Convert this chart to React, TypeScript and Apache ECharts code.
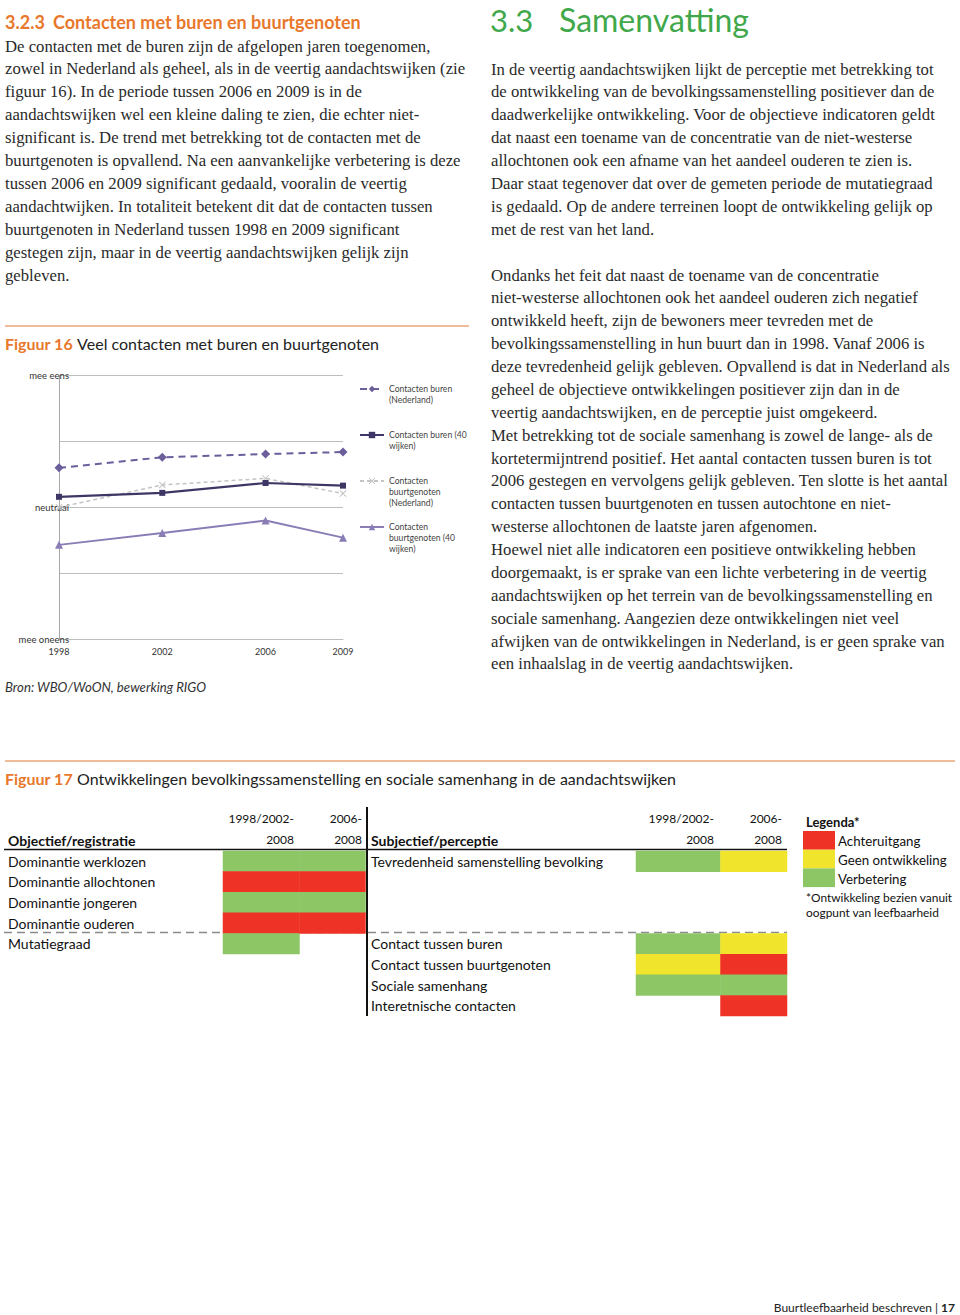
import React, { useEffect, useRef } from "react";
import * as echarts from "echarts";

// ---------- Figure 16 data ----------
const years = [1998, 2002, 2006, 2009];
const seriesNames = [
  "Contacten buren (Nederland)",
  "Contacten buren (40 wijken)",
  "Contacten buurtgenoten (Nederland)",
  "Contacten buurtgenoten (40 wijken)",
];
const legendWrapped = [
  ["Contacten buren", "(Nederland)"],
  ["Contacten buren (40", "wijken)"],
  ["Contacten", "buurtgenoten", "(Nederland)"],
  ["Contacten", "buurtgenoten (40", "wijken)"],
];
const burenNL = [2.6, 2.76, 2.81, 2.84];
const buren40 = [2.16, 2.22, 2.37, 2.33];
const genotenNL = [2.0, 2.34, 2.44, 2.21];
const genoten40 = [1.43, 1.61, 1.8, 1.54];
const scaleValues = [0, 2, 4];
const scaleNames = ["mee oneens", "neutraal", "mee eens"];

// ---------- Figure 17 data ----------
const periods = ["1998/2002-\n2008", "2006-\n2008"];
const objRows = [
  "Dominantie werklozen",
  "Dominantie allochtonen",
  "Dominantie jongeren",
  "Dominantie ouderen",
  "Mutatiegraad",
];
const objLong = [1, -1, 1, -1, 1];
const objShort = [1, -1, 1, -1, null];
const subjRows = [
  "Tevredenheid samenstelling bevolking",
  " ",
  "  ",
  "   ",
  "Contact tussen buren",
  "Contact tussen buurtgenoten",
  "Sociale samenhang",
  "Interetnische contacten",
];
const subjLong = [1, null, null, null, 1, 0, 1, null];
const subjShort = [0, null, null, null, 0, -1, 1, -1];
const statusNames = ["Achteruitgang", "Geen ontwikkeling", "Verbetering"];
const statusValues = [-1, 0, 1];
const statusColors = ["#ee3326", "#f0e52c", "#8cc665"];

// ---------- texts ----------
const leftLines = [
  "De contacten met de buren zijn de afgelopen jaren toegenomen,",
  "zowel in Nederland als geheel, als in de veertig aandachtswijken (zie",
  "figuur 16). In de periode tussen 2006 en 2009 is in de",
  "aandachtswijken wel een kleine daling te zien, die echter niet-",
  "significant is. De trend met betrekking tot de contacten met de",
  "buurtgenoten is opvallend. Na een aanvankelijke verbetering is deze",
  "tussen 2006 en 2009 significant gedaald, vooralin de veertig",
  "aandachtwijken. In totaliteit betekent dit dat de contacten tussen",
  "buurtgenoten in Nederland tussen 1998 en 2009 significant",
  "gestegen zijn, maar in de veertig aandachtswijken gelijk zijn",
  "gebleven.",
];
const rightLines1 = [
  "In de veertig aandachtswijken lijkt de perceptie met betrekking tot",
  "de ontwikkeling van de bevolkingssamenstelling positiever dan de",
  "daadwerkelijke ontwikkeling. Voor de objectieve indicatoren geldt",
  "dat naast een toename van de concentratie van de niet-westerse",
  "allochtonen ook een afname van het aandeel ouderen te zien is.",
  "Daar staat tegenover dat over de gemeten periode de mutatiegraad",
  "is gedaald. Op de andere terreinen loopt de ontwikkeling gelijk op",
  "met de rest van het land.",
];
const rightLines2 = [
  "Ondanks het feit dat naast de toename van de concentratie",
  "niet-westerse allochtonen ook het aandeel ouderen zich negatief",
  "ontwikkeld heeft, zijn de bewoners meer tevreden met de",
  "bevolkingssamenstelling in hun buurt dan in 1998. Vanaf 2006 is",
  "deze tevredenheid gelijk gebleven. Opvallend is dat in Nederland als",
  "geheel de objectieve ontwikkelingen positiever zijn dan in de",
  "veertig aandachtswijken, en de perceptie juist omgekeerd.",
  "Met betrekking tot de sociale samenhang is zowel de lange- als de",
  "kortetermijntrend positief. Het aantal contacten tussen buren is tot",
  "2006 gestegen en vervolgens gelijk gebleven. Ten slotte is het aantal",
  "contacten tussen buurtgenoten en tussen autochtone en niet-",
  "westerse allochtonen de laatste jaren afgenomen.",
  "Hoewel niet alle indicatoren een positieve ontwikkeling hebben",
  "doorgemaakt, is er sprake van een lichte verbetering in de veertig",
  "aandachtswijken op het terrein van de bevolkingssamenstelling en",
  "sociale samenhang. Aangezien deze ontwikkelingen niet veel",
  "afwijken van de ontwikkelingen in Nederland, is er geen sprake van",
  "een inhaalslag in de veertig aandachtswijken.",
];

const ORANGE = "#e8782c";
const GREEN = "#40a84a";
const BODY = "#2a2a2a";
const SERIF = "'Liberation Serif', serif";
const SANS = "Lato, 'Open Sans', sans-serif";
const LH = 22.9;

function t(x: number, y: number, text: string, o: any = {}) {
  return {
    type: "text",
    x,
    y,
    silent: true,
    style: {
      text,
      fill: o.fill || BODY,
      fontSize: o.size || 16.7,
      fontFamily: o.family || SERIF,
      fontWeight: o.weight || "normal",
      fontStyle: o.style || "normal",
      align: o.align || "left",
      verticalAlign: "middle",
      rich: o.rich,
    },
  };
}
function hl(x1: number, x2: number, y: number, stroke: string, w: number, dash?: number[]) {
  return {
    type: "line",
    silent: true,
    shape: { x1, y1: y, x2, y2: y },
    style: { stroke, lineWidth: w, lineDash: dash },
  };
}

function heat(data: (number | null)[], xi: number) {
  return {
    type: "heatmap",
    xAxisIndex: xi,
    yAxisIndex: xi,
    data: data
      .map((s, i) => (s === null ? null : [0, i, s]))
      .filter((d) => d !== null),
  };
}

export default function App() {
  const ref = useRef<HTMLDivElement>(null);
  useEffect(() => {
    document.body.style.margin = "0";
    const chart = echarts.init(ref.current!, null, { renderer: "svg" });

    const g: any[] = [];
    // Left column
    g.push(t(5, 22, "3.2.3", { fill: ORANGE, size: 18, family: SANS, weight: "bold" }));
    g.push(
      t(53, 22, "Contacten met buren en buurtgenoten", {
        fill: ORANGE,
        size: 18,
        family: SANS,
        weight: "bold",
      })
    );
    leftLines.forEach((l, i) => g.push(t(5, 46 + i * LH, l)));
    g.push(hl(5, 469, 326, "#eba77a", 1.3));
    const cap = (num: string, rest: string) =>
      `{o|${num}} {d|${rest}}`;
    const capRich = {
      o: { fill: ORANGE, fontWeight: "bold", fontSize: 16, fontFamily: SANS },
      d: { fill: "#222", fontSize: 16, fontFamily: SANS },
    };
    g.push(
      t(5, 343, cap("Figuur 16", "Veel contacten met buren en buurtgenoten"), {
        family: SANS,
        size: 16,
        rich: capRich,
      })
    );
    g.push(
      t(5, 687, "Bron: WBO/WoON, bewerking RIGO", {
        family: SANS,
        size: 13.2,
        style: "italic",
        fill: "#333",
      })
    );

    // Right column
    g.push(t(490, 20, "3.3", { fill: GREEN, size: 31, family: SANS }));
    g.push(t(559, 19, "Samenvatting", { fill: GREEN, size: 32, family: SANS }));
    rightLines1.forEach((l, i) => g.push(t(491, 69 + i * LH, l)));
    rightLines2.forEach((l, i) => g.push(t(491, 275 + i * 22.88, l)));

    // Figure 17
    g.push(hl(5, 955, 761, "#eba77a", 1.3));
    g.push(
      t(
        5,
        778,
        cap("Figuur 17", "Ontwikkelingen bevolkingssamenstelling en sociale samenhang in de aandachtswijken"),
        { family: SANS, size: 16, rich: capRich }
      )
    );
    const hdr = { family: SANS, size: 12, fill: "#111" };
    g.push(t(8, 840, "Objectief/registratie", { family: SANS, size: 14, weight: "bold", fill: "#111" }));
    g.push(t(371, 840, "Subjectief/perceptie", { family: SANS, size: 14, weight: "bold", fill: "#111" }));
    const colRights = [294, 362, 714, 782];
    colRights.forEach((xr, ci) => {
      const p = periods[ci % 2].split("\n");
      g.push(t(xr, 818, p[0], { ...hdr, align: "right" }));
      g.push(t(xr, 839, p[1], { ...hdr, align: "right" }));
    });
    g.push(hl(4, 366, 849.5, "#111", 1.6));
    g.push(hl(368, 787, 849.5, "#111", 1.6));
    g.push({
      type: "line",
      silent: true,
      shape: { x1: 367, y1: 807, x2: 367, y2: 1016 },
      style: { stroke: "#111", lineWidth: 2 },
    });
    g.push(hl(4, 787, 932.5, "#8a8a8a", 1.5, [8, 5]));
    g.push(t(806, 822, "Legenda*", { family: SANS, size: 13, weight: "bold", fill: "#111" }));
    statusNames.forEach((n, i) => {
      g.push({
        type: "rect",
        silent: true,
        shape: { x: 803, y: 831 + i * 18.7, width: 32, height: 18.7 },
        style: { fill: statusColors[i] },
      });
      g.push(t(838, 841 + i * 19, n, { family: SANS, size: 13.3, fill: "#111" }));
    });
    g.push(t(806, 897, "*Ontwikkeling bezien vanuit", { family: SANS, size: 11.9, fill: "#111" }));
    g.push(t(806, 912, "oogpunt van leefbaarheid", { family: SANS, size: 11.9, fill: "#111" }));

    g.push(
      t(955, 1307, "{d|Buurtleefbaarheid beschreven | }{b|17}", {
        family: SANS,
        size: 12,
        align: "right",
        rich: {
          d: { fill: "#222", fontSize: 12, fontFamily: SANS },
          b: { fill: "#222", fontSize: 12, fontFamily: SANS, fontWeight: "bold" },
        },
      })
    );

    const lineColors = ["#6b5e9b", "#3e3766", "#c4c4c4", "#8a7db6"];
    const lineData = [burenNL, buren40, genotenNL, genoten40];
    const symbols = [
      "diamond",
      "rect",
      "path://M0,1L1,0L5,4L9,0L10,1L6,5L10,9L9,10L5,6L1,10L0,9L4,5Z",
      "triangle",
    ];
    const symbolSizes = [9, 6, 7, 8];
    const dashes: any[] = [[7, 5], "solid", [4, 3], "solid"];
    const widths = [2, 2.2, 1.5, 2];

    const tableAxisX = (gi: number) => ({
      type: "category",
      gridIndex: gi,
      data: [periods[(gi - 1) % 2]],
      show: false,
    });
    const tableAxisY = (gi: number, rows: string[], margin: number, showLabels: boolean) => ({
      type: "category",
      gridIndex: gi,
      data: rows,
      inverse: true,
      axisLine: { show: false },
      axisTick: { show: false },
      splitLine: { show: false },
      axisLabel: {
        show: showLabels,
        interval: 0,
        align: "left",
        margin,
        fontSize: 14,
        color: "#111",
        fontFamily: SANS,
      },
    });

    const option: any = {
      animation: false,
      backgroundColor: "#ffffff",
      textStyle: { fontFamily: SANS },
      grid: [
        { left: 59, top: 375.7, width: 284, height: 263.3 },
        { left: 223, top: 851, width: 76.5, height: 103 },
        { left: 299.5, top: 851, width: 66, height: 103 },
        { left: 636, top: 851, width: 84.5, height: 165 },
        { left: 720.5, top: 851, width: 66.5, height: 165 },
      ],
      xAxis: [
        {
          type: "value",
          gridIndex: 0,
          min: 1998,
          max: 2009,
          interval: 1,
          splitLine: { show: false },
          axisTick: { show: false },
          axisLine: { show: true, lineStyle: { color: "#bdbdbd", width: 1 } },
          axisLabel: {
            margin: 8,
            fontSize: 9,
            color: "#333",
            fontFamily: SANS,
            formatter: (v: number) => (years.indexOf(v) >= 0 ? String(v) : ""),
          },
        },
        tableAxisX(1),
        tableAxisX(2),
        tableAxisX(3),
        tableAxisX(4),
      ],
      yAxis: [
        {
          type: "value",
          gridIndex: 0,
          min: 0,
          max: 4,
          interval: 1,
          axisLine: { show: true, lineStyle: { color: "#a8a8a8", width: 1 } },
          axisTick: { show: false },
          splitLine: { show: true, lineStyle: { color: "#bdbdbd", width: 1 } },
          axisLabel: {
            margin: -10,
            fontSize: 9.5,
            color: "#333",
            fontFamily: SANS,
            formatter: (v: number) => {
              const k = scaleValues.indexOf(v);
              return k >= 0 ? scaleNames[k] : "";
            },
          },
        },
        tableAxisY(1, objRows, 215, true),
        tableAxisY(2, objRows, 0, false),
        tableAxisY(3, subjRows, 265, true),
        tableAxisY(4, subjRows, 0, false),
      ],
      visualMap: {
        type: "piecewise",
        show: false,
        seriesIndex: [4, 5, 6, 7],
        dimension: 2,
        pieces: statusValues.map((v, i) => ({ value: v, color: statusColors[i] })),
      },
      legend: {
        orient: "vertical",
        left: 359,
        top: 362,
        padding: 0,
        itemWidth: 24,
        itemHeight: 8,
        itemGap: -8,
        selectedMode: false,
        data: seriesNames,
        textStyle: { fontSize: 8.6, color: "#444", lineHeight: 10.8, fontFamily: SANS },
        formatter: (name: string) => {
          const lines = legendWrapped[seriesNames.indexOf(name)].slice();
          while (lines.length < 3) lines.push(" ");
          return [" ", " "].concat(lines).join("\n");
        },
      },
      series: [
        ...seriesNames.map((n, i) => ({
          type: "line",
          name: n,
          xAxisIndex: 0,
          yAxisIndex: 0,
          data: years.map((y, j) => [y, lineData[i][j]]),
          symbol: symbols[i],
          symbolSize: symbolSizes[i],
          lineStyle: { color: lineColors[i], width: widths[i], type: dashes[i] },
          itemStyle: { color: lineColors[i] },
          z: 10 - i,
        })),
        heat(objLong, 1),
        heat(objShort, 2),
        heat(subjLong, 3),
        heat(subjShort, 4),
      ],
      graphic: { elements: g },
    };
    chart.setOption(option);
    return () => chart.dispose();
  }, []);
  return <div ref={ref} style={{ width: 960, height: 1315 }} />;
}
